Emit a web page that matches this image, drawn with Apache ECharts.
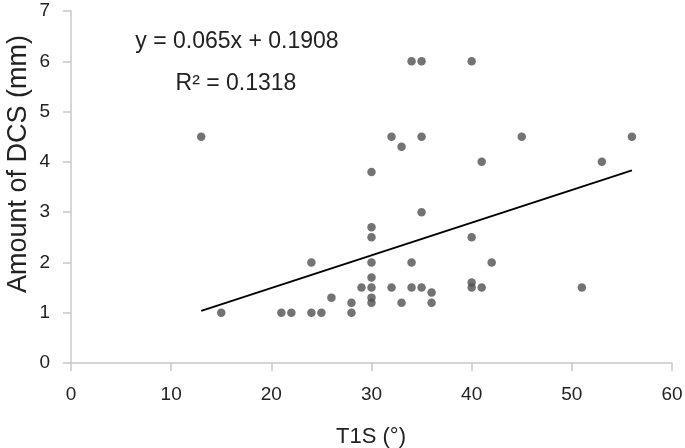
<!DOCTYPE html>
<html><head><meta charset="utf-8">
<script src="https://cdn.jsdelivr.net/npm/echarts@6/dist/echarts.min.js"></script>
<style>html,body{margin:0;padding:0;background:#fff}#c{width:685px;height:448px}</style>
</head><body><div id="c"></div>
<script>
const xValues = [13,15,21,22,24,24,25,26,28,28,29,30,30,30,30,30,30,30,30,32,32,33,33,34,34,34,35,35,35,35,36,36,40,40,40,40,41,41,42,45,51,53,56];
const yValues = [4.5,1,1,1,2,1,1,1.3,1.2,1,1.5,3.8,2.7,2.5,2,1.7,1.5,1.3,1.2,4.5,1.5,4.3,1.2,6,2,1.5,6,4.5,3,1.5,1.4,1.2,6,2.5,1.6,1.5,4,1.5,2,4.5,1.5,4,4.5];
const xTicks = [0,10,20,30,40,50,60];
const yTicks = [0,1,2,3,4,5,6,7];
const trendSlope = 0.065, trendIntercept = 0.1908;
const trendRange = [13,56];
const eqText = 'y = 0.065x + 0.1908';
const r2Text = 'R² = 0.1318';
const xTitle = 'T1S (°)';
const yTitle = 'Amount of DCS (mm)';

const points = xValues.map((x,i)=>[x,yValues[i]]);
const trend = trendRange.map(x=>[x, trendSlope*x+trendIntercept]);
const font = '"Liberation Sans", Arial, sans-serif';
const chart = echarts.init(document.getElementById('c'));
chart.setOption({
  animation:false,
  grid:{left:71,right:13,top:11,bottom:85,containLabel:false,outerBoundsMode:'none'},
  xAxis:{type:'value',min:xTicks[0],max:xTicks[xTicks.length-1],interval:10,
    axisLine:{lineStyle:{color:'#c8c8c8',width:1.5}},
    axisTick:{show:true,length:8,lineStyle:{color:'#c8c8c8',width:1.5}},
    axisLabel:{fontFamily:font,fontSize:19,color:'#222',margin:22},
    splitLine:{show:false}},
  yAxis:{type:'value',min:yTicks[0],max:yTicks[yTicks.length-1],interval:1,
    axisLine:{show:true,lineStyle:{color:'#c8c8c8',width:1.5}},
    axisTick:{show:true,length:8,lineStyle:{color:'#c8c8c8',width:1.5}},
    axisLabel:{fontFamily:font,fontSize:19,color:'#222',margin:21},
    splitLine:{show:false}},
  graphic:[
    {type:'text',x:237,y:42,style:{text:eqText,fill:'#222',font:'23px '+font,textAlign:'center',textVerticalAlign:'middle'}},
    {type:'text',x:236,y:84,style:{text:r2Text,fill:'#222',font:'23px '+font,textAlign:'center',textVerticalAlign:'middle'}},
    {type:'text',x:19,y:164,rotation:Math.PI/2,style:{text:yTitle,fill:'#222',font:'27px '+font,textAlign:'center',textVerticalAlign:'middle'}},
    {type:'text',x:371,y:437,style:{text:xTitle,fill:'#222',font:'22px '+font,textAlign:'center',textVerticalAlign:'middle'}}
  ],
  series:[
    {type:'scatter',data:points,symbolSize:8.5,itemStyle:{color:'#505050'},z:3},
    {type:'line',data:trend,showSymbol:false,lineStyle:{color:'#000',width:2},z:2}
  ]
});
</script></body></html>
